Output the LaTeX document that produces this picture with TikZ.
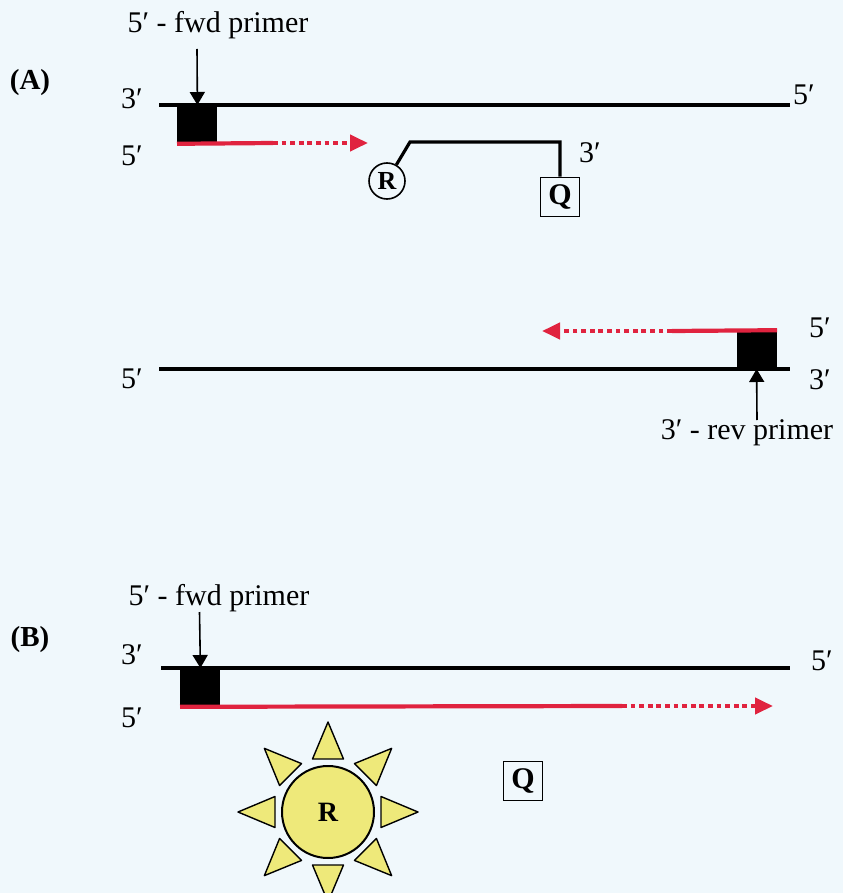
\documentclass[tikz,border=0pt]{standalone}
\usepackage{fontspec}
\setmainfont{Liberation Serif}
\usetikzlibrary{positioning,arrows.meta,shapes.geometric}
\definecolor{fondo}{HTML}{F0F8FC}
\definecolor{rojopcr}{HTML}{E0233F}
\definecolor{solar}{HTML}{EEE97A}
\tikzset{
  texto/.style={font=\fontsize{15}{18}\selectfont, inner sep=0pt},
  panel/.style={font=\fontsize{14.5}{17}\selectfont\bfseries, inner sep=0pt},
  hebra/.style={line width=2.1pt},
  cebador/.style={rectangle, fill=black, inner sep=0pt, minimum width=20pt, minimum height=19pt},
  extension/.style={draw=rojopcr, line width=2.1pt},
  punteado/.style={draw=rojopcr, line width=2.1pt, dash pattern=on 2.4pt off 1.9pt,
    -{Triangle[length=9pt, width=8pt]}},
  flecha/.style={-{Triangle[length=6.5pt, width=7.5pt]}, line width=0.8pt},
  sonda/.style={line width=1.6pt},
  reportero/.style={circle, draw, line width=0.8pt, inner sep=0pt, minimum size=18pt,
    font=\fontsize{13}{15}\selectfont\bfseries},
  quencher/.style={rectangle, draw, line width=0.8pt, inner sep=0pt, minimum size=19.5pt,
    font=\fontsize{15}{18}\selectfont\bfseries},
  rayo/.style={draw, fill=solar, line width=0.7pt, line join=round},
}

\begin{document}
\begin{tikzpicture}[x=0.5pt, y=-0.5pt]
    \fill[fondo] (0,0) rectangle (843,893);
    \useasboundingbox (0,0) rectangle (843,893);
    % Panel A: hebra superior y cebador directo
    \node[panel] (pa) at (30,83) {(A)};
    \node[texto] (fa) at (218,25) {5′ - fwd primer};
    \coordinate (a1) at (159,105);
    \coordinate (a2) at (790,105);
    \draw[hebra] (a1) -- (a2);
    \node[texto] (a3p) at (132,99) {3′};
    \node[texto] (a5p) at (804,95) {5′};
    \node[texto] (b5p) at (132,156) {5′};
    \node[cebador, anchor=north west] (ca) at (177,105) {};
    \coordinate (fa0) at (197,49);
    \draw[flecha] (fa0) -- (ca.north);
    \coordinate (ra1) at (273,143);
    \coordinate (ra2) at (368,143);
    \draw[extension] (ca.south west) -- (ra1);
    \draw[punteado] (ra1) -- (ra2);
    % Sonda con reportero y quencher
    \node[reportero] (ra) at (387,181) {R};
    \node[quencher] (qa) at (560,197) {Q};
    \node[texto] (s3p) at (590,153) {3′};
    \coordinate (s1) at (410,142);
    \coordinate (s2) at (560,142);
    \draw[sonda, line join=miter] (ra.60) -- (s1) -- (s2) -- (qa.north);
    % Hebra inferior y cebador reverso
    \coordinate (c1) at (159,369);
    \coordinate (c2) at (790,369);
    \draw[hebra] (c1) -- (c2);
    \node[texto] (c5p) at (132,379) {5′};
    \node[texto] (c3p) at (820,380) {3′};
    \node[texto] (d5p) at (820,328) {5′};
    \node[cebador, anchor=south east] (cr) at (777,369) {};
    \node[texto] (fr) at (747,433) {3′ - rev primer};
    \coordinate (fr0) at (757,420);
    \draw[flecha] (fr0) -- (cr.south);
    \coordinate (rr1) at (672,331);
    \coordinate (rr2) at (542,331);
    \draw[extension] (cr.north east) -- (rr1);
    \draw[punteado] (rr1) -- (rr2);
    % Panel B: extension completa y sonda cortada
    \node[panel] (pb) at (30,640) {(B)};
    \node[texto] (fb) at (219,598) {5′ - fwd primer};
    \coordinate (e1) at (161,668);
    \coordinate (e2) at (790,668);
    \draw[hebra] (e1) -- (e2);
    \node[texto] (e3p) at (132,655) {3′};
    \node[texto] (e5p) at (822,661) {5′};
    \node[texto] (f5p) at (132,718) {5′};
    \node[cebador, anchor=north west] (cb) at (180,668) {};
    \coordinate (fb0) at (199.5,612);
    \draw[flecha] (fb0) -- (cb.north);
    \coordinate (rb1) at (622,706);
    \coordinate (rb2) at (773,706);
    \draw[extension] (cb.south west) -- (rb1);
    \draw[punteado] (rb1) -- (rb2);
    % Reportero libre (sol) y quencher
    \node[circle, draw, fill=solar, line width=1pt, minimum size=46pt, inner sep=0pt,
      font=\fontsize{14}{17}\selectfont\bfseries] (sol) at (328,812) {R};
    \foreach \a in {0,45,...,315}
      \draw[rayo, shift={(sol.center)}, rotate=\a] (53,-15.5) -- (90,0) -- (53,15.5) -- cycle;
    \node[quencher] (qb) at (523,781) {Q};
  \end{tikzpicture}
\end{document}
